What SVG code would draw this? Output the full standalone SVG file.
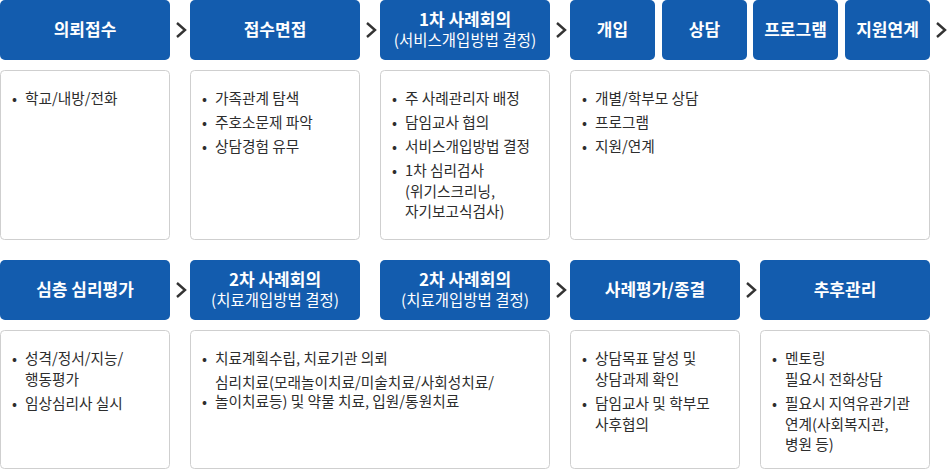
<svg xmlns="http://www.w3.org/2000/svg" width="948" height="470" viewBox="0 0 948 470">
<style>
.hd{fill:#135cae}
.bx{fill:#ffffff;stroke:#cfcfcf;stroke-width:1}
.t{font-family:"Noto Sans CJK KR","Noto Sans",sans-serif;font-size:17px;font-weight:700;fill:#ffffff;text-anchor:middle}
.s{font-family:"Noto Sans CJK KR","Noto Sans",sans-serif;font-size:15.5px;font-weight:400;fill:#ffffff;text-anchor:middle}
.c{font-family:"Noto Sans CJK KR","Noto Sans",sans-serif;font-size:14.7px;font-weight:400;fill:#2d2d2d}
.ar{fill:none;stroke:#333333;stroke-width:2.4;stroke-linecap:butt;stroke-linejoin:miter}
</style>
<rect width="948" height="470" fill="#ffffff"/>

<g id="connectors">
<polyline class="ar" points="177,23 185,30 177,37"/>
<polyline class="ar" points="367,23 375,30 367,37"/>
<polyline class="ar" points="557,23 565,30 557,37"/>
<polyline class="ar" points="937,23 945,30 937,37"/>
<polyline class="ar" points="177,283 185,290 177,297"/>
<polyline class="ar" points="557,283 565,290 557,297"/>
<polyline class="ar" points="747,283 755,290 747,297"/>
</g>

<g id="h-referral"><rect class="hd" x="0" y="0" width="170" height="60" rx="5"/><text class="t" x="85" y="36">의뢰접수</text></g>
<g id="h-intake"><rect class="hd" x="190" y="0" width="170" height="60" rx="5"/><text class="t" x="275" y="36">접수면접</text></g>
<g id="h-case1"><rect class="hd" x="380" y="0" width="170" height="60" rx="5"/><text class="t" x="465" y="26">1차 사례회의</text><text class="s" x="465" y="46">(서비스개입방법 결정)</text></g>
<g id="h-intervene"><rect class="hd" x="570" y="0" width="85" height="60" rx="5"/><text class="t" x="612.5" y="36">개입</text></g>
<g id="h-counsel"><rect class="hd" x="662" y="0" width="85" height="60" rx="5"/><text class="t" x="704.5" y="36">상담</text></g>
<g id="h-program"><rect class="hd" x="753" y="0" width="85" height="60" rx="5"/><text class="t" x="795.5" y="36">프로그램</text></g>
<g id="h-support"><rect class="hd" x="845" y="0" width="85" height="60" rx="5"/><text class="t" x="887.5" y="36">지원연계</text></g>

<g id="b-referral"><rect class="bx" x="0.5" y="70.5" width="169" height="169" rx="4"/>
<text class="c"><tspan x="12" y="104">•</tspan><tspan x="25" y="104">학교/내방/전화</tspan></text></g>
<g id="b-intake"><rect class="bx" x="190.5" y="70.5" width="169" height="169" rx="4"/>
<text class="c"><tspan x="202" y="104">•</tspan><tspan x="215" y="104">가족관계 탐색</tspan><tspan x="202" y="128">•</tspan><tspan x="215" y="128">주호소문제 파악</tspan><tspan x="202" y="152">•</tspan><tspan x="215" y="152">상담경험 유무</tspan></text></g>
<g id="b-case1"><rect class="bx" x="380.5" y="70.5" width="169" height="169" rx="4"/>
<text class="c"><tspan x="392" y="104">•</tspan><tspan x="405" y="104">주 사례관리자 배정</tspan><tspan x="392" y="128">•</tspan><tspan x="405" y="128">담임교사 협의</tspan><tspan x="392" y="152">•</tspan><tspan x="405" y="152">서비스개입방법 결정</tspan><tspan x="392" y="176">•</tspan><tspan x="405" y="176">1차 심리검사</tspan><tspan x="405" y="197">(위기스크리닝,</tspan><tspan x="405" y="217">자기보고식검사)</tspan></text></g>
<g id="b-intervene"><rect class="bx" x="570.5" y="70.5" width="359" height="169" rx="4"/>
<text class="c"><tspan x="582" y="104">•</tspan><tspan x="595" y="104">개별/학부모 상담</tspan><tspan x="582" y="128">•</tspan><tspan x="595" y="128">프로그램</tspan><tspan x="582" y="152">•</tspan><tspan x="595" y="152">지원/연계</tspan></text></g>

<g id="h-deep"><rect class="hd" x="0" y="260" width="170" height="60" rx="5"/><text class="t" x="85" y="296">심층 심리평가</text></g>
<g id="h-case2a"><rect class="hd" x="190" y="260" width="170" height="60" rx="5"/><text class="t" x="275" y="286">2차 사례회의</text><text class="s" x="275" y="306">(치료개입방법 결정)</text></g>
<g id="h-case2b"><rect class="hd" x="380" y="260" width="170" height="60" rx="5"/><text class="t" x="465" y="286">2차 사례회의</text><text class="s" x="465" y="306">(치료개입방법 결정)</text></g>
<g id="h-eval"><rect class="hd" x="570" y="260" width="170" height="60" rx="5"/><text class="t" x="655" y="296">사례평가/종결</text></g>
<g id="h-follow"><rect class="hd" x="760" y="260" width="170" height="60" rx="5"/><text class="t" x="845" y="296">추후관리</text></g>

<g id="b-deep"><rect class="bx" x="0.5" y="330.5" width="169" height="138" rx="4"/>
<text class="c"><tspan x="12" y="364">•</tspan><tspan x="25" y="364">성격/정서/지능/</tspan><tspan x="25" y="385">행동평가</tspan><tspan x="12" y="409">•</tspan><tspan x="25" y="409">임상심리사 실시</tspan></text></g>
<g id="b-case2"><rect class="bx" x="190.5" y="330.5" width="359" height="138" rx="4"/>
<text class="c"><tspan x="202" y="364">•</tspan><tspan x="215" y="364">치료계획수립, 치료기관 의뢰</tspan><tspan x="215" y="388">심리치료(모래놀이치료/미술치료/사회성치료/</tspan><tspan x="202" y="407">•</tspan><tspan x="215" y="407">놀이치료등) 및 약물 치료, 입원/통원치료</tspan></text></g>
<g id="b-eval"><rect class="bx" x="570.5" y="330.5" width="169" height="138" rx="4"/>
<text class="c"><tspan x="582" y="364">•</tspan><tspan x="595" y="364">상담목표 달성 및</tspan><tspan x="595" y="385">상담과제 확인</tspan><tspan x="582" y="409">•</tspan><tspan x="595" y="409">담임교사 및 학부모</tspan><tspan x="595" y="430">사후협의</tspan></text></g>
<g id="b-follow"><rect class="bx" x="760.5" y="330.5" width="169" height="138" rx="4"/>
<text class="c"><tspan x="772" y="364">•</tspan><tspan x="785" y="364">멘토링</tspan><tspan x="785" y="385">필요시 전화상담</tspan><tspan x="772" y="409">•</tspan><tspan x="785" y="409">필요시 지역유관기관</tspan><tspan x="785" y="430">연계(사회복지관,</tspan><tspan x="785" y="450">병원 등)</tspan></text></g>
</svg>
